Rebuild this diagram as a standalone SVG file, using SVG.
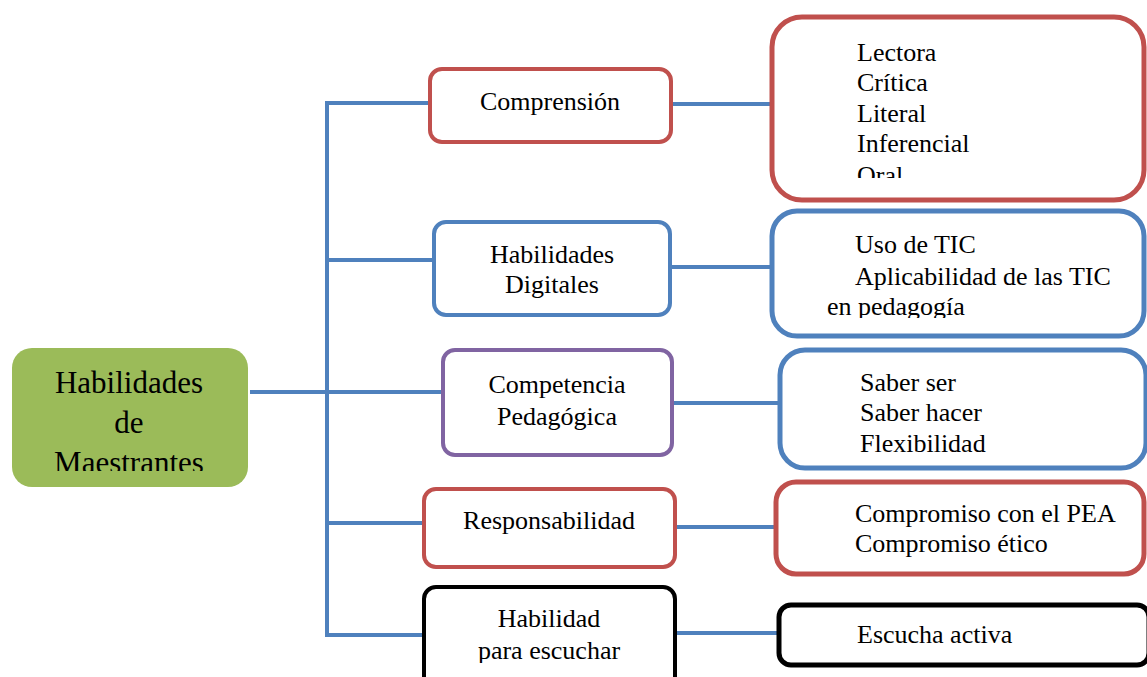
<svg xmlns="http://www.w3.org/2000/svg" width="1147" height="677" viewBox="0 0 1147 677" font-family="'Liberation Serif', 'Times New Roman', 'DejaVu Serif', serif">
<style>
text{font-family:'Liberation Serif','Times New Roman','DejaVu Serif',serif;fill:#000;font-size:26px}
.c{text-anchor:middle}
.big{font-size:31px}
.box{fill:#fff;stroke-width:4}
.rbox{fill:#fff;stroke-width:5}
.red{stroke:#C0504D}
.blue{stroke:#4F81BD}
.purple{stroke:#8064A2}
.black{stroke:#000}
.con{stroke:#4F81BD;stroke-width:4;fill:none}
</style>
<defs>
<clipPath id="clipRoot"><rect x="0" y="0" width="1147" height="471"/></clipPath>
<clipPath id="clipB1"><rect x="0" y="0" width="1147" height="178"/></clipPath>
<clipPath id="clipB2"><rect x="0" y="0" width="1147" height="318"/></clipPath>
<clipPath id="clipHE"><rect x="0" y="0" width="1147" height="663"/></clipPath>
</defs>
<rect width="1147" height="677" fill="#fff"/>
<g id="connectors">
<line class="con" x1="327" y1="101" x2="327" y2="637"/>
<line class="con" x1="250" y1="392" x2="443" y2="392"/>
<line class="con" x1="327" y1="103" x2="430" y2="103"/>
<line class="con" x1="327" y1="260" x2="434" y2="260"/>
<line class="con" x1="327" y1="523" x2="424" y2="523"/>
<line class="con" x1="327" y1="635" x2="424" y2="635"/>
<line class="con" x1="671" y1="104" x2="772" y2="104"/>
<line class="con" x1="670" y1="267" x2="772" y2="267"/>
<line class="con" x1="672" y1="403" x2="780" y2="403"/>
<line class="con" x1="675" y1="527" x2="776" y2="527"/>
<line class="con" x1="675" y1="633" x2="779" y2="633"/>
</g>
<g id="root">
<rect x="12" y="348" width="236" height="139" rx="20" fill="#9BBB59"/>
<g clip-path="url(#clipRoot)">
<text class="c big" x="129" y="393">Habilidades</text>
<text class="c big" x="129" y="433">de</text>
<text class="c big" x="129" y="473">Maestrantes</text>
</g>
</g>
<g id="comprension">
<rect class="box red" x="430" y="69" width="241" height="73" rx="12"/>
<text class="c" x="550" y="110">Comprensión</text>
</g>
<g id="habilidades-digitales">
<rect class="box blue" x="434" y="222" width="236" height="93" rx="12"/>
<text class="c" x="552" y="263">Habilidades</text>
<text class="c" x="552" y="293">Digitales</text>
</g>
<g id="competencia-pedagogica">
<rect class="box purple" x="443" y="350" width="229" height="105" rx="12"/>
<text class="c" x="557" y="393">Competencia</text>
<text class="c" x="557" y="425">Pedagógica</text>
</g>
<g id="responsabilidad">
<rect class="box red" x="424" y="489" width="251" height="78" rx="12"/>
<text class="c" x="549" y="529">Responsabilidad</text>
</g>
<g id="habilidad-escuchar">
<rect class="box black" x="424" y="587" width="251" height="110" rx="12"/>
<g clip-path="url(#clipHE)">
<text class="c" x="549" y="627">Habilidad</text>
<text class="c" x="549" y="659">para escuchar</text>
</g>
</g>
<g id="comprension-items">
<rect class="rbox red" x="772" y="17" width="372" height="183" rx="30"/>
<g clip-path="url(#clipB1)">
<text x="857" y="61">Lectora</text>
<text x="857" y="91">Crítica</text>
<text x="857" y="122">Literal</text>
<text x="857" y="152">Inferencial</text>
<text x="857" y="184">Oral</text>
</g>
</g>
<g id="digitales-items">
<rect class="rbox blue" x="772" y="211" width="372" height="125" rx="25"/>
<g clip-path="url(#clipB2)">
<text x="855" y="253">Uso de TIC</text>
<text x="855" y="285">Aplicabilidad de las TIC</text>
<text x="827" y="315">en pedagogía</text>
</g>
</g>
<g id="pedagogica-items">
<rect class="rbox blue" x="780" y="350" width="366" height="118" rx="25"/>
<text x="860" y="391">Saber ser</text>
<text x="860" y="421">Saber hacer</text>
<text x="860" y="452">Flexibilidad</text>
</g>
<g id="responsabilidad-items">
<rect class="rbox red" x="776" y="482" width="368" height="92" rx="20"/>
<text x="855" y="522">Compromiso con el PEA</text>
<text x="855" y="552">Compromiso ético</text>
</g>
<g id="escuchar-items">
<rect class="rbox black" x="779" y="605" width="370" height="60" rx="12"/>
<text x="857" y="643">Escucha activa</text>
</g>
</svg>
